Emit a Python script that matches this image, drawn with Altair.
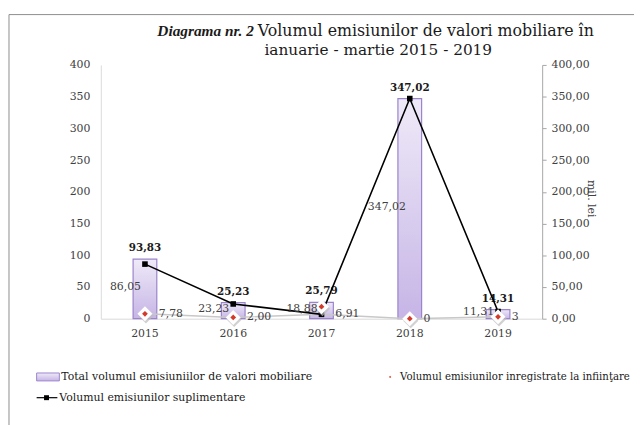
import altair as alt
import pandas as pd

# ---- data ----
years = ["2015", "2016", "2017", "2018", "2019"]
total = [93.83, 25.23, 25.79, 347.02, 14.31]          # bars
suplimentare = [86.05, 23.23, 6.91, 347.02, 11.31]    # black line (as drawn)
infiintare = [7.78, 2.00, 18.88, 0, 3]                # diamonds (as drawn)
label_upper = ["86,05", "23,23", "18,88", "347,02", "11,31"]
label_lower = ["7,78", "2,00", "6,91", "0", "3"]
left_ticks = [0, 50, 100, 150, 200, 250, 300, 350, 400]

df = pd.DataFrame({
    "year": years,
    "total": total,
    "supl": suplimentare,
    "infi": infiintare,
    "upper": label_upper,
    "lower": label_lower,
})
df["total_lbl"] = [f"{v:.2f}".replace(".", ",") for v in total]
df["mid"] = df["total"] / 2
df["low"] = df[["supl", "infi"]].min(axis=1)

FONT = "DejaVu Serif"
TFONT = "Liberation Serif"
TXT = "#404040"
W, H = 447, 257

xscale = alt.Scale(paddingInner=0, paddingOuter=0)
xaxis = alt.Axis(domainColor="#d9d9d9", ticks=False, tickSize=0, labelPadding=9,
                 labelAngle=0, labelFont=FONT, labelFontSize=11, labelColor=TXT,
                 title=None, grid=False)
X = alt.X("year:N", scale=xscale, axis=xaxis, title=None)

yscale_l = alt.Scale(domain=[0, 400], nice=False)
yscale_r = alt.Scale(domain=[0, 400], nice=False)
left_axis = alt.Axis(values=left_ticks, domainColor="#d9d9d9", ticks=False, tickSize=0,
                     labelPadding=11, labelFont=FONT, labelFontSize=11, labelColor=TXT,
                     grid=False, title=None)
right_axis = alt.Axis(orient="right", values=left_ticks,
                      labelExpr="replace(format(datum.value, '.2f'), '.', ',')",
                      domainColor="#a6a6a6", tickColor="#a6a6a6", tickSize=4,
                      labelPadding=5, labelFont=FONT, labelFontSize=11, labelColor=TXT,
                      grid=False, title="mil. lei", titleAngle=90, titleX=49, titleY=135,
                      titleFont=FONT, titleFontSize=11, titleFontWeight="normal",
                      titleColor=TXT, titleAlign="center", titleBaseline="middle")

base = alt.Chart(df)

grad = alt.Gradient(gradient="linear",
                    stops=[alt.GradientStop(color="#efeaf8", offset=0),
                           alt.GradientStop(color="#c6b5e6", offset=1)],
                    x1=1, x2=1, y1=0, y2=1)

bars = base.mark_bar(size=24, color=grad, stroke="#9a84cc", strokeWidth=1.2).encode(
    x=X, y=alt.Y("total:Q", scale=yscale_l, axis=left_axis, title=None))
bar_lbl = base.mark_text(font=FONT, fontSize=10.5, fontWeight="bold", color="#1a1a1a",
                         baseline="middle", dy=-11).encode(
    x=X, y=alt.Y("total:Q", scale=yscale_l, axis=left_axis, title=None),
    text="total_lbl:N")
left_group = alt.layer(bars, bar_lbl)

YR = lambda f: alt.Y(f, scale=yscale_r, axis=right_axis, title=None)

gray_line = base.mark_line(color="#c8c8c8", strokeWidth=1.5).encode(x=X, y=YR("low:Q"))
black_line = base.mark_line(color="black", strokeWidth=1.6).encode(x=X, y=YR("supl:Q"))
squares = base.mark_point(shape="square", filled=True, size=32, color="black", opacity=1).encode(
    x=X, y=YR("supl:Q"))
dia_shadow = base.mark_point(shape="diamond", filled=True, size=240, color="#bdbdbd",
                             opacity=0.7, xOffset=1, yOffset=2).encode(x=X, y=YR("infi:Q"))
dia_white = base.mark_point(shape="diamond", filled=True, size=230, color="white",
                            opacity=1).encode(x=X, y=YR("infi:Q"))
dia_red = base.mark_point(shape="diamond", filled=True, size=34, color="#d23a2c",
                          opacity=1).encode(x=X, y=YR("infi:Q"))
upper_lbl = base.mark_text(font=FONT, fontSize=11, color=TXT, align="right",
                           baseline="middle", dx=-4, dy=-2).encode(
    x=X, y=YR("mid:Q"), text="upper:N")
lower_lbl = base.mark_text(font=FONT, fontSize=11, color=TXT, align="left",
                           baseline="middle", dx=14, dy=0).encode(
    x=X, y=YR("low:Q"), text="lower:N")
right_group = alt.layer(gray_line, black_line, squares, dia_shadow, dia_white, dia_red,
                        upper_lbl, lower_lbl)

# ---- decorations: frame, title, legend ----
one = alt.Data(values=[{"a": 1}])
frame = alt.Chart(one).mark_rect(fill=None, stroke="#8c8c8c", strokeWidth=1).encode(
    x=alt.value(-93), x2=alt.value(700), y=alt.value(-51), y2=alt.value(500))

def txt(s, x, y, size=12, align="left", weight="normal", style="normal",
        baseline="middle", font=FONT):
    return alt.Chart(one).mark_text(text=s, font=font, fontSize=size, align=align,
                                    fontWeight=weight, fontStyle=style, baseline=baseline,
                                    color="#1a1a1a").encode(x=alt.value(x), y=alt.value(y))

title1a = txt("Diagrama nr. 2", 155, -29, size=15.5, align="right", weight="bold",
              style="italic", baseline="alphabetic", font=TFONT)
title1b = txt("Volumul emisiunilor de valori mobiliare în", 159, -29, size=16,
              baseline="alphabetic")
title2 = txt("ianuarie - martie 2015 - 2019", 281, -10, size=15.5, align="center",
             baseline="alphabetic")

leg_rect = alt.Chart(one).mark_rect(color=grad, stroke="#9a84cc", strokeWidth=1).encode(
    x=alt.value(-65), x2=alt.value(-42), y=alt.value(312), y2=alt.value(320))
leg_t1 = txt("Total volumul emisiuniilor de valori mobiliare", -40, 316, size=11)
leg_dot = alt.Chart(one).mark_point(shape="diamond", filled=True, size=5, color="#d23a2c",
                                    opacity=1).encode(x=alt.value(293), y=alt.value(316))
leg_t2 = txt("Volumul emisiunilor inregistrate la infiinţare", 303, 316, size=10.3)
leg_line = alt.Chart(one).mark_rule(color="black", strokeWidth=1.2).encode(
    x=alt.value(-65), x2=alt.value(-44), y=alt.value(337))
leg_sq = alt.Chart(one).mark_point(shape="square", filled=True, size=25, color="black",
                                   opacity=1).encode(x=alt.value(-55), y=alt.value(337))
leg_t3 = txt("Volumul emisiunilor suplimentare", -42, 337, size=11)

decor = alt.layer(frame, title1a, title1b, title2, leg_rect, leg_t1, leg_dot, leg_t2,
                  leg_line, leg_sq, leg_t3)

chart = alt.layer(left_group, right_group, decor).resolve_scale(y="independent").properties(
    width=W, height=H,
    padding={"left": 94, "top": 55, "right": 93, "bottom": 105},
    autosize=alt.AutoSizeParams(type="none"),
    background="white",
).configure_view(stroke=None)

chart.save("out.html", embed_options={"renderer": "svg", "actions": False})
